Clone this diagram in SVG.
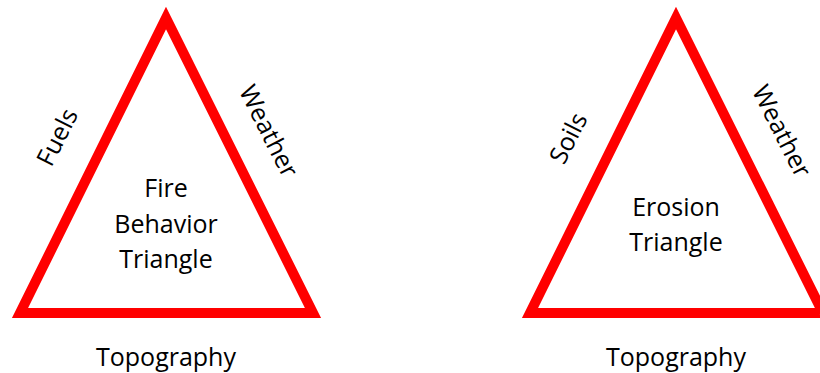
<svg xmlns="http://www.w3.org/2000/svg" width="820" height="373" viewBox="0 0 820 373">
<style>
.tri{fill:none;stroke:#ff0000;stroke-width:10;stroke-linejoin:miter;stroke-miterlimit:10}
text{font-family:"Open Sans","Liberation Sans",sans-serif;font-size:25px;fill:#000;text-anchor:middle}
</style>
<rect width="820" height="373" fill="#fff"/>
<g id="fire-triangle">
<polygon class="tri" points="166,18 20,313 313,313"/>
<text x="166" y="197">Fire</text>
<text x="166" y="233">Behavior</text>
<text x="166" y="268">Triangle</text>
</g>
<g id="fuels"><text transform="translate(57,137) rotate(-63)" y="9">Fuels</text></g>
<g id="weather1"><text transform="translate(269,131) rotate(63)" y="9">Weather</text></g>
<g id="topography1"><text x="166" y="366">Topography</text></g>
<g id="erosion-triangle">
<polygon class="tri" points="676,18 530,313 823,313"/>
<text x="676" y="216">Erosion</text>
<text x="676" y="251">Triangle</text>
</g>
<g id="soils"><text transform="translate(568,138) rotate(-63)" y="9">Soils</text></g>
<g id="weather2"><text transform="translate(782,131) rotate(63)" y="9">Weather</text></g>
<g id="topography2"><text x="676" y="366">Topography</text></g>
<g id="connectors"></g>
</svg>
